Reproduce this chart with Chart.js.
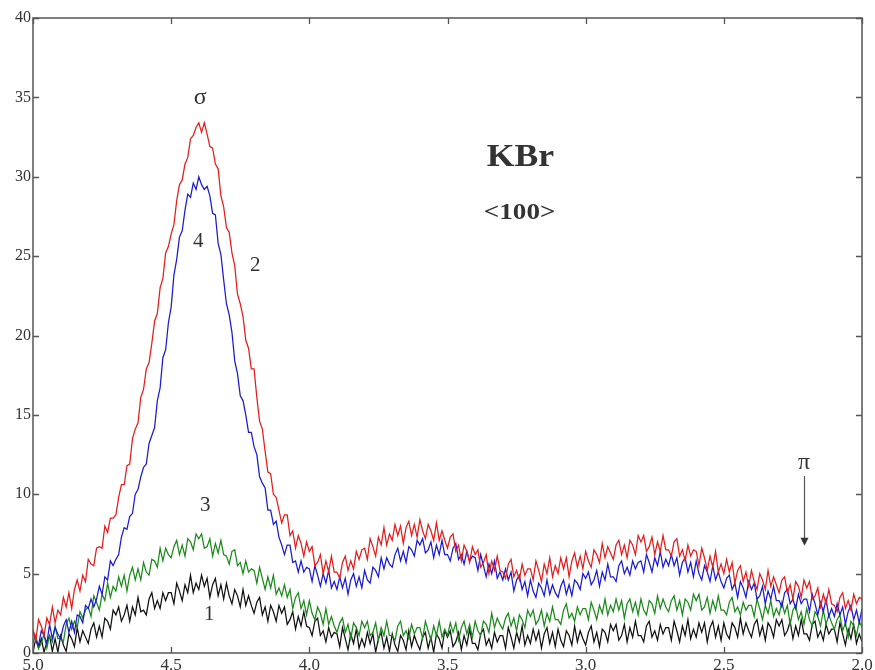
<!DOCTYPE html>
<html>
<head>
<meta charset="utf-8">
<title>KBr &lt;100&gt;</title>
<script src="https://cdn.jsdelivr.net/npm/chart.js@4.4.1/dist/chart.umd.min.js"></script>
<style>
  html, body { margin: 0; padding: 0; background: #ffffff; }
  #wrap { width: 875px; height: 670px; position: relative; }
</style>
</head>
<body>
<div id="wrap"><canvas id="c" width="875" height="670"></canvas></div>
<script>
// Photon energy grid (eV), sampled every 0.01 from 5.0 down to 2.0
const E_FIRST = 5.0;
const E_STEP = 0.01;
const E_COUNT = 301;

// Axis ticks
const xTicks = [5.0, 4.5, 4.0, 3.5, 3.0, 2.5, 2.0];
const yTicks = [0, 5, 10, 15, 20, 25, 30, 35, 40];

// Curve 2 (red)
const curve2 = [
  1.5, 0.8, 2.1, 1.7, 1.1, 2.2, 1.8, 2.9, 1.9, 2.7,
  2.4, 3.5, 2.9, 3.8, 2.8, 4.0, 4.6, 3.9, 4.9, 4.5,
  5.9, 5.6, 5.5, 6.6, 6.7, 6.6, 8.0, 7.6, 8.5, 8.5,
  8.7, 9.8, 10.6, 10.6, 11.8, 11.9, 13.5, 14.1, 14.5, 16.1,
  16.6, 17.9, 18.3, 19.5, 20.9, 21.4, 23.0, 23.6, 25.2, 25.6,
  26.4, 27.0, 28.5, 29.5, 29.8, 30.8, 31.2, 32.4, 32.6, 33.1,
  33.4, 32.8, 33.4, 32.7, 31.9, 31.8, 30.8, 30.5, 28.8, 28.1,
  26.8, 26.5, 25.2, 24.4, 22.6, 22.0, 21.2, 19.7, 19.2, 17.9,
  17.9, 16.1, 14.6, 14.1, 12.7, 11.4, 11.3, 10.0, 9.8, 9.0,
  8.2, 8.7, 8.7, 7.4, 7.7, 6.6, 7.4, 6.9, 6.1, 7.0,
  6.4, 6.7, 5.5, 5.7, 6.2, 5.0, 5.8, 5.1, 6.1, 5.1,
  5.1, 4.7, 5.7, 6.1, 5.2, 5.8, 5.3, 6.4, 5.9, 6.5,
  6.6, 5.9, 7.2, 6.7, 6.1, 7.3, 6.8, 7.9, 6.8, 7.5,
  7.1, 8.1, 7.4, 8.0, 6.9, 7.9, 8.3, 7.4, 8.1, 7.3,
  8.4, 7.7, 7.2, 8.1, 7.7, 7.1, 8.2, 7.1, 7.7, 7.1,
  6.6, 7.3, 7.5, 6.4, 6.8, 5.8, 6.8, 6.4, 5.7, 6.7,
  6.2, 6.5, 5.4, 5.7, 6.2, 5.0, 5.8, 5.2, 6.1, 5.2,
  5.1, 4.7, 5.6, 5.9, 4.8, 5.2, 4.6, 5.6, 4.9, 5.3,
  5.3, 4.6, 5.8, 5.2, 4.5, 5.6, 5.0, 6.0, 4.8, 5.5,
  5.0, 6.0, 5.3, 6.0, 4.8, 5.8, 6.3, 5.4, 6.1, 5.3,
  6.4, 5.8, 5.4, 6.5, 6.2, 5.7, 6.9, 6.0, 6.7, 6.3,
  5.9, 6.8, 7.1, 6.2, 6.8, 6.0, 7.1, 6.8, 6.2, 7.4,
  7.0, 7.4, 6.4, 6.7, 7.3, 6.2, 7.0, 6.4, 7.4, 6.5,
  6.5, 6.1, 7.0, 7.2, 6.1, 6.5, 5.8, 6.8, 6.1, 6.5,
  6.4, 5.5, 6.6, 6.0, 5.2, 6.1, 5.4, 6.4, 5.1, 5.6,
  5.0, 5.9, 5.1, 5.7, 4.4, 5.2, 5.5, 4.5, 5.1, 4.2,
  5.2, 4.5, 4.0, 5.0, 4.6, 4.0, 5.2, 4.2, 4.8, 4.3,
  3.8, 4.6, 4.8, 3.8, 4.3, 3.4, 4.5, 4.2, 3.5, 4.6,
  4.1, 4.5, 3.4, 3.6, 4.1, 2.9, 3.7, 3.1, 4.0, 3.1,
  3.0, 2.6, 3.5, 3.8, 2.8, 3.3, 2.7, 3.7, 3.1, 3.5,
  3.4
];

// Curve 4 (blue)
const curve4 = [
  1.4, 0.8, 0.5, 1.4, 1.1, 0.6, 1.8, 0.9, 1.6, 1.2,
  0.9, 1.7, 2.1, 1.3, 2.0, 1.3, 2.4, 2.3, 1.9, 3.0,
  2.8, 3.4, 2.9, 3.4, 4.2, 3.7, 4.8, 4.6, 5.8, 5.5,
  5.9, 6.2, 7.3, 7.9, 7.8, 8.6, 8.8, 10.0, 10.3, 11.1,
  11.7, 11.9, 13.2, 13.7, 14.2, 15.9, 16.7, 18.6, 19.1, 20.8,
  21.8, 23.8, 24.8, 26.2, 26.6, 27.9, 28.9, 28.7, 29.6, 29.2,
  30.0, 29.5, 29.2, 29.4, 28.8, 27.7, 27.6, 25.8, 25.1, 23.5,
  22.0, 21.3, 20.2, 18.4, 17.6, 16.2, 15.9, 15.0, 13.9, 13.9,
  13.0, 12.5, 11.1, 10.7, 10.4, 9.0, 9.0, 8.1, 8.3, 7.3,
  6.8, 6.2, 6.8, 6.8, 5.7, 5.8, 5.1, 5.8, 5.1, 5.4,
  5.3, 4.5, 5.5, 4.9, 4.2, 5.0, 4.4, 5.2, 4.1, 4.5,
  4.0, 4.8, 4.1, 4.7, 3.7, 4.6, 5.0, 4.2, 4.8, 4.1,
  5.2, 4.6, 4.4, 5.4, 5.2, 4.8, 6.0, 5.3, 6.0, 5.6,
  5.4, 6.2, 6.6, 5.8, 6.4, 5.7, 6.7, 6.5, 6.1, 7.1,
  6.8, 7.2, 6.3, 6.5, 7.0, 6.0, 6.8, 6.2, 7.1, 6.2,
  6.2, 5.8, 6.6, 6.9, 5.9, 6.2, 5.6, 6.4, 5.8, 6.1,
  6.0, 5.2, 6.2, 5.5, 4.8, 5.6, 5.0, 5.8, 4.7, 5.1,
  4.6, 5.3, 4.6, 5.1, 3.9, 4.6, 4.9, 4.0, 4.5, 3.6,
  4.6, 3.9, 3.5, 4.4, 4.1, 3.6, 4.6, 3.7, 4.3, 3.8,
  3.5, 4.2, 4.6, 3.7, 4.3, 3.6, 4.6, 4.4, 4.0, 5.0,
  4.7, 5.1, 4.3, 4.6, 5.2, 4.2, 5.1, 4.6, 5.6, 4.8,
  4.8, 4.5, 5.5, 5.8, 5.0, 5.4, 4.9, 5.8, 5.3, 5.7,
  5.8, 5.1, 6.2, 5.7, 5.1, 6.0, 5.5, 6.4, 5.4, 5.9,
  5.5, 6.2, 5.5, 6.0, 4.9, 5.7, 6.0, 5.1, 5.7, 4.8,
  5.8, 5.0, 4.6, 5.5, 5.1, 4.5, 5.5, 4.6, 5.1, 4.5,
  4.1, 4.7, 4.9, 4.0, 4.4, 3.5, 4.5, 4.1, 3.5, 4.5,
  4.0, 4.4, 3.4, 3.6, 4.2, 3.1, 3.9, 3.4, 4.2, 3.3,
  3.3, 2.9, 3.8, 4.0, 3.1, 3.4, 2.8, 3.7, 3.1, 3.4,
  3.4, 2.6, 3.7, 3.1, 2.4, 3.2, 2.6, 3.4, 2.3, 2.8,
  2.3, 3.1, 2.4, 2.9, 1.8, 2.6, 3.0, 2.1, 2.7, 1.9,
  2.8
];

// Curve 3 (green)
const curve3 = [
  0.7, 1.1, 0.3, 0.6, 1.2, 0.3, 1.1, 0.7, 1.7, 0.9,
  0.9, 0.7, 1.8, 2.2, 1.5, 2.0, 1.6, 2.6, 2.2, 2.7,
  2.9, 2.3, 3.6, 3.2, 2.7, 3.7, 3.3, 4.4, 3.5, 4.2,
  3.9, 4.8, 4.2, 4.9, 3.9, 4.9, 5.4, 4.6, 5.3, 4.6,
  5.7, 5.1, 4.9, 5.9, 5.8, 5.4, 6.6, 5.8, 6.6, 6.2,
  6.0, 6.7, 7.1, 6.2, 6.8, 6.1, 7.2, 7.0, 6.5, 7.5,
  7.2, 7.5, 6.6, 6.7, 7.2, 6.1, 6.9, 6.3, 7.1, 6.2,
  6.1, 5.6, 6.4, 6.5, 5.5, 5.7, 5.0, 5.8, 5.1, 5.3,
  5.2, 4.4, 5.4, 4.7, 4.0, 4.8, 4.1, 4.9, 3.7, 4.1,
  3.6, 4.3, 3.5, 4.0, 2.8, 3.5, 3.8, 2.8, 3.3, 2.4,
  3.3, 2.5, 2.1, 2.9, 2.5, 1.8, 2.8, 1.8, 2.3, 1.7,
  1.3, 1.9, 2.2, 1.3, 1.8, 0.9, 1.9, 1.6, 1.1, 2.0,
  1.6, 2.0, 1.1, 1.3, 1.9, 0.8, 1.6, 1.1, 2.0, 1.1,
  1.1, 0.8, 1.7, 2.0, 1.1, 1.4, 0.9, 1.8, 1.2, 1.6,
  1.6, 0.9, 2.0, 1.4, 0.8, 1.7, 1.1, 2.0, 1.0, 1.5,
  1.1, 1.9, 1.3, 1.9, 0.8, 1.6, 2.0, 1.2, 1.8, 1.0,
  2.0, 1.4, 1.1, 2.0, 1.8, 1.3, 2.5, 1.6, 2.2, 1.8,
  1.5, 2.2, 2.5, 1.7, 2.2, 1.4, 2.4, 2.1, 1.6, 2.7,
  2.3, 2.7, 1.8, 2.1, 2.7, 1.7, 2.5, 2.0, 2.9, 2.1,
  2.1, 1.8, 2.7, 3.1, 2.2, 2.5, 2.0, 2.9, 2.4, 2.8,
  2.8, 2.1, 3.2, 2.7, 2.1, 3.0, 2.5, 3.4, 2.4, 3.0,
  2.6, 3.4, 2.7, 3.3, 2.2, 3.1, 3.4, 2.6, 3.2, 2.4,
  3.4, 2.7, 2.4, 3.3, 3.1, 2.5, 3.6, 2.8, 3.4, 2.9,
  2.6, 3.3, 3.6, 2.7, 3.3, 2.4, 3.4, 3.2, 2.7, 3.7,
  3.3, 3.7, 2.7, 2.9, 3.5, 2.5, 3.3, 2.7, 3.6, 2.7,
  2.7, 2.4, 3.2, 3.5, 2.6, 2.9, 2.4, 3.2, 2.7, 3.0,
  3.0, 2.3, 3.4, 2.8, 2.1, 3.0, 2.5, 3.3, 2.3, 2.8,
  2.4, 3.2, 2.5, 3.0, 1.8, 2.7, 3.0, 2.1, 2.6, 1.8,
  2.8, 2.1, 1.7, 2.6, 2.3, 1.7, 2.7, 1.8, 2.4, 1.9,
  1.5, 2.1, 2.4, 1.4, 1.9, 1.0, 2.0, 1.7, 1.1, 2.0,
  1.6
];

// Curve 1 (black)
const curve1 = [
  0.05, 0.9, 0.3, 0.9, 0.05, 0.7, 1.1, 0.1, 0.9, 0.05,
  1.1, 0.5, 0.1, 1.2, 0.9, 0.4, 1.6, 0.7, 1.4, 1.0,
  0.6, 1.5, 1.9, 1.0, 1.7, 1.0, 2.2, 2.0, 1.5, 2.7,
  2.4, 2.9, 2.0, 2.4, 3.0, 2.0, 2.9, 2.4, 3.5, 2.6,
  2.7, 2.4, 3.4, 3.8, 2.8, 3.3, 2.8, 3.8, 3.3, 3.8,
  3.8, 3.1, 4.4, 3.9, 3.3, 4.3, 3.8, 4.9, 3.8, 4.4,
  4.0, 4.9, 4.2, 4.7, 3.5, 4.3, 4.7, 3.6, 4.3, 3.4,
  4.4, 3.6, 3.1, 4.0, 3.6, 2.9, 4.0, 3.0, 3.6, 3.0,
  2.5, 3.2, 3.5, 2.4, 2.9, 2.0, 3.0, 2.6, 2.0, 3.0,
  2.5, 2.9, 1.8, 2.1, 2.6, 1.5, 2.3, 1.7, 2.6, 1.7,
  1.6, 1.1, 2.0, 2.2, 1.1, 1.4, 0.7, 1.6, 1.0, 1.3,
  1.2, 0.4, 1.6, 0.9, 0.2, 1.2, 0.6, 1.5, 0.3, 0.9,
  0.4, 1.3, 0.6, 1.2, 0.05, 0.9, 1.3, 0.3, 1.0, 0.1,
  1.2, 0.5, 0.1, 1.1, 0.8, 0.2, 1.4, 0.4, 1.1, 0.6,
  0.2, 1.0, 1.3, 0.3, 1.0, 0.05, 1.2, 0.9, 0.3, 1.4,
  1.0, 1.4, 0.4, 0.7, 1.3, 0.2, 1.1, 0.5, 1.5, 0.6,
  0.6, 0.2, 1.2, 1.5, 0.5, 0.9, 0.3, 1.3, 0.7, 1.1,
  1.1, 0.3, 1.6, 1.0, 0.3, 1.3, 0.7, 1.7, 0.5, 1.1,
  0.6, 1.5, 0.8, 1.4, 0.3, 1.2, 1.6, 0.6, 1.3, 0.4,
  1.5, 0.8, 0.4, 1.4, 1.1, 0.5, 1.7, 0.7, 1.4, 0.9,
  0.5, 1.3, 1.7, 0.7, 1.3, 0.4, 1.5, 1.3, 0.7, 1.8,
  1.4, 1.8, 0.8, 1.1, 1.8, 0.7, 1.6, 1.0, 2.0, 1.1,
  1.1, 0.7, 1.7, 2.0, 1.0, 1.4, 0.8, 1.8, 1.2, 1.6,
  1.6, 0.8, 2.0, 1.4, 0.7, 1.7, 1.1, 2.1, 0.9, 1.5,
  1.0, 1.9, 1.3, 1.9, 0.7, 1.6, 2.0, 1.0, 1.7, 0.8,
  1.9, 1.2, 0.9, 1.9, 1.6, 1.0, 2.2, 1.2, 1.9, 1.4,
  1.0, 1.8, 2.1, 1.1, 1.7, 0.8, 1.9, 1.6, 1.0, 2.1,
  1.7, 2.1, 1.1, 1.4, 2.0, 0.9, 1.7, 1.1, 2.1, 1.2,
  1.2, 0.8, 1.8, 2.0, 1.0, 1.4, 0.8, 1.8, 1.2, 1.5,
  1.5, 0.7, 1.9, 1.2, 0.5, 1.5, 0.9, 1.8, 0.6, 1.2,
  0.7
];

const energy = [];
for (let i = 0; i < E_COUNT; i++) {
  energy.push(+(E_FIRST - i * E_STEP).toFixed(2));
}

function pairs(values) {
  return values.map((v, i) => ({ x: energy[i], y: v }));
}

const SERIF = "'Liberation Serif', 'DejaVu Serif', serif";
const FRAME = '#555555';
const TEXT = '#333333';

// Frame, inward tick marks and the in-plot labels
const decorations = {
  id: 'decorations',
  afterDraw(chart) {
    const { ctx, chartArea: a, scales: { x, y } } = chart;
    ctx.save();
    ctx.strokeStyle = FRAME;
    ctx.lineWidth = 1.5;
    ctx.strokeRect(a.left, a.top, a.right - a.left, a.bottom - a.top);

    ctx.lineWidth = 1.3;
    ctx.beginPath();
    xTicks.forEach(t => {
      const px = Math.round(x.getPixelForValue(t)) + 0.5;
      ctx.moveTo(px, a.bottom); ctx.lineTo(px, a.bottom - 6);
      ctx.moveTo(px, a.top); ctx.lineTo(px, a.top + 6);
    });
    yTicks.forEach(t => {
      const py = Math.round(y.getPixelForValue(t)) + 0.5;
      ctx.moveTo(a.left, py); ctx.lineTo(a.left + 6, py);
      ctx.moveTo(a.right, py); ctx.lineTo(a.right - 6, py);
    });
    ctx.stroke();

    // text placed in data coordinates, optionally widened horizontally
    const put = (txt, ex, ey, font, widen) => {
      const px = x.getPixelForValue(ex);
      const py = y.getPixelForValue(ey);
      ctx.save();
      ctx.translate(px, py);
      ctx.scale(widen || 1, 1);
      ctx.font = font;
      ctx.fillStyle = TEXT;
      ctx.textAlign = 'center';
      ctx.textBaseline = 'middle';
      ctx.fillText(txt, 0, 0);
      ctx.restore();
    };
    put('σ', 4.395, 35.0, '24px ' + SERIF);
    put('4', 4.402, 25.9, '21px ' + SERIF);
    put('2', 4.196, 24.4, '21px ' + SERIF);
    put('3', 4.377, 9.3, '21px ' + SERIF);
    put('1', 4.362, 2.4, '21px ' + SERIF);
    put('KBr', 3.236, 31.2, 'bold 31px ' + SERIF, 1.15);
    put('<100>', 3.239, 27.7, 'bold 23px ' + SERIF, 1.18);
    put('π', 2.21, 12.0, '24px ' + SERIF);

    // arrow under π
    const ax = Math.round(x.getPixelForValue(2.21)) + 0.5;
    const ay0 = y.getPixelForValue(11.15);
    const ay1 = y.getPixelForValue(6.75);
    ctx.strokeStyle = FRAME;
    ctx.lineWidth = 1.2;
    ctx.beginPath();
    ctx.moveTo(ax, ay0); ctx.lineTo(ax, ay1 - 6);
    ctx.stroke();
    ctx.fillStyle = '#333333';
    ctx.beginPath();
    ctx.moveTo(ax - 4, ay1 - 8);
    ctx.lineTo(ax + 4, ay1 - 8);
    ctx.lineTo(ax, ay1);
    ctx.closePath();
    ctx.fill();
    ctx.restore();
  }
};

const line = (data, color) => ({
  data: pairs(data),
  borderColor: color,
  borderWidth: 1.25,
  pointRadius: 0,
  tension: 0,
  fill: false
});

new Chart(document.getElementById('c'), {
  type: 'line',
  data: {
    datasets: [
      line(curve2, '#e61c1c'),
      line(curve4, '#1a1ad2'),
      line(curve3, '#1b8a1b'),
      line(curve1, '#111111')
    ]
  },
  options: {
    responsive: false,
    animation: false,
    devicePixelRatio: 1,
    layout: { padding: { top: 18, right: 13, left: 0, bottom: 0 } },
    plugins: { legend: { display: false }, tooltip: { enabled: false } },
    scales: {
      x: {
        type: 'linear',
        reverse: true,
        min: 2.0,
        max: 5.0,
        afterFit(s) { s.height = 17; },
        afterBuildTicks(s) { s.ticks = xTicks.map(v => ({ value: v })); },
        grid: { display: false, drawTicks: false },
        border: { display: false },
        ticks: {
          padding: 2,
          color: TEXT,
          font: { family: SERIF, size: 17 },
          maxRotation: 0,
          callback: v => Number(v).toFixed(1)
        }
      },
      y: {
        min: 0,
        max: 40,
        afterFit(s) { s.width = 33; },
        afterBuildTicks(s) { s.ticks = yTicks.map(v => ({ value: v })); },
        grid: { display: false, drawTicks: false },
        border: { display: false },
        ticks: {
          padding: 2,
          color: TEXT,
          font: { family: SERIF, size: 16 },
          callback: v => String(v)
        }
      }
    }
  },
  plugins: [decorations]
});
</script>
</body>
</html>
